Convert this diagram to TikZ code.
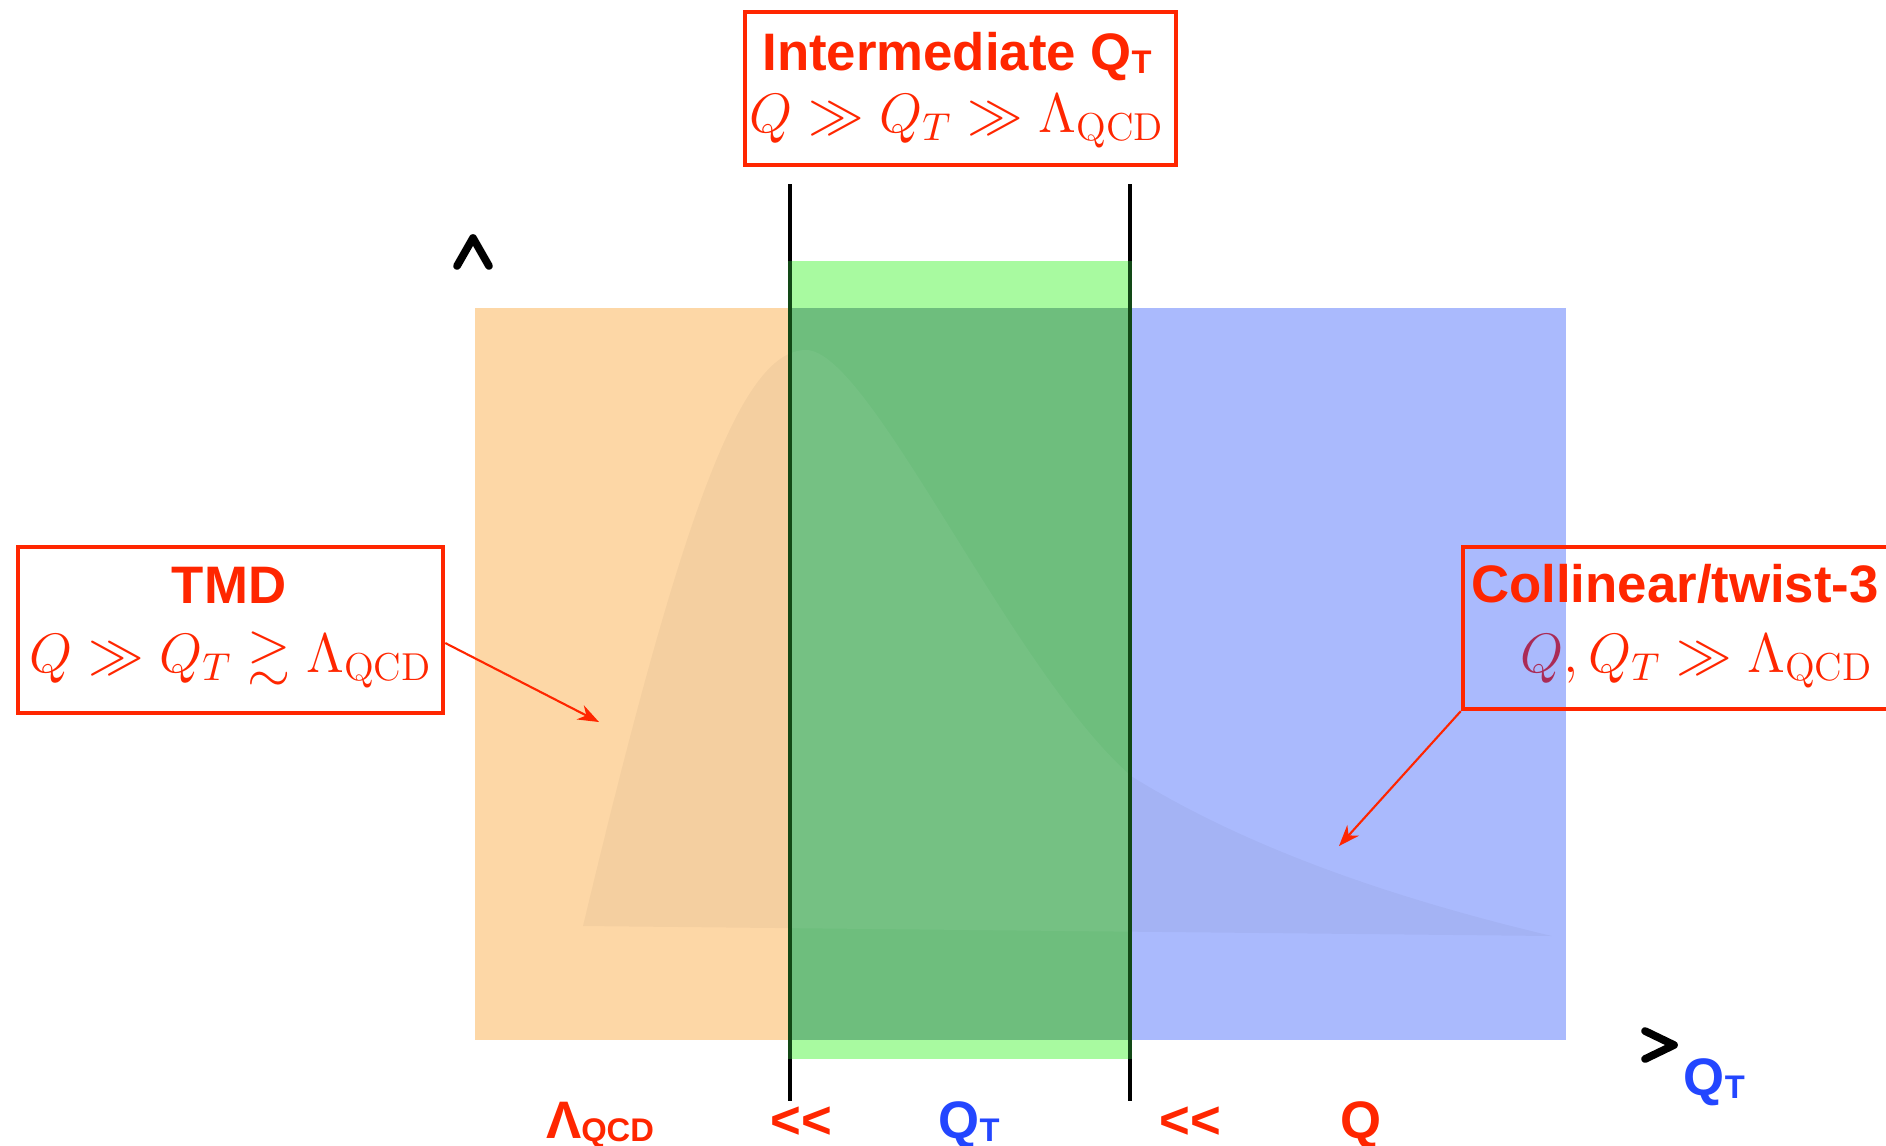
\RequirePackage{fix-cm}
\documentclass[tikz,border=0pt]{standalone}
\usepackage{amsmath,amssymb}
\usepackage{fontspec}
\setsansfont{Liberation Sans}
\usetikzlibrary{arrows.meta,positioning}
\definecolor{KeyRed}{RGB}{255,38,0}
\definecolor{KeyBlue}{RGB}{35,70,255}
\definecolor{TmdOrange}{RGB}{253,215,166}
\definecolor{MidGreen}{RGB}{168,250,160}
\definecolor{MidGreenDark}{RGB}{110,190,125}
\definecolor{ColBlue}{RGB}{9,55,250}
\definecolor{LineGreen}{RGB}{18,72,22}
\newcommand{\lowsub}[1]{\raisebox{-0.9pt}{\fontsize{9.3}{10}\selectfont #1}}

\begin{document}
\begin{tikzpicture}[x=0.01cm,y=-0.01cm,
    regionbox/.style={draw=KeyRed,line width=1.2pt,inner sep=0pt},
    boxtitle/.style={text=KeyRed,font=\sffamily\bfseries\fontsize{15}{18}\selectfont,
                     anchor=base,inner sep=0pt},
    formula/.style={text=KeyRed,font=\fontsize{15.8}{19}\selectfont,anchor=base,inner sep=0pt},
    scalelabel/.style={font=\sffamily\bfseries\fontsize{15}{18}\selectfont,anchor=base,inner sep=0pt},
    pointer/.style={draw=KeyRed,line width=0.6pt,-{Stealth[length=6pt,width=4.5pt]}},
    chevron/.style={line width=2.2pt,line cap=round,line join=round},
    divider/.style={line width=1.2pt}
  ]
  \useasboundingbox (0,0) rectangle (1886,1145);
  % regions
  \fill[TmdOrange] (475,308) rectangle (790,1040);
  \node[formula] (colmath) at (1697,672) {$Q, Q_T \gg \Lambda_{\mathrm{QCD}}$};
  \fill[ColBlue,fill opacity=0.344] (1130,308) rectangle (1566,1040);
  \path[save path=\peakpath] (583,926) .. controls (680,520) and (740,350) .. (806,350)
    .. controls (870,350) and (1010,670) .. (1131,776)
    .. controls (1250,850) and (1400,900) .. (1552,936) -- cycle;
  \fill[black,fill opacity=0.035,use path=\peakpath];
  \fill[MidGreen] (790,261) rectangle (1130,1059);
  \fill[MidGreenDark] (790,308) rectangle (1130,1040);
  \begin{scope}
    \clip (790,308) rectangle (1130,1040);
    \fill[white,fill opacity=0.05,use path=\peakpath];
  \end{scope}
  \draw[divider] (790,184) -- (790,1101);
  \draw[divider] (1130,184) -- (1130,1101);
  \draw[divider,LineGreen] (790,261) -- (790,1059);
  \draw[divider,LineGreen] (1130,261) -- (1130,1059);

  % labelled boxes
  \node[regionbox,minimum width=4.31cm,minimum height=1.53cm] (midbox) at (960.5,88.5) {};
  \node[boxtitle] (midtitle) at (957,70) {Intermediate Q\lowsub{T}};
  \node[formula] (midmath) at (957,132) {$Q \gg Q_T \gg \Lambda_{\mathrm{QCD}}$};

  \node[regionbox,minimum width=4.25cm,minimum height=1.66cm] (tmdbox) at (230.5,630) {};
  \node[boxtitle] (tmdtitle) at (229,603) {TMD};
  \node[formula] (tmdmath) at (231,672) {$Q \gg Q_T \gtrsim \Lambda_{\mathrm{QCD}}$};

  \node[regionbox,minimum width=4.6cm,minimum height=1.62cm] (colbox) at (1693,628) {};
  \node[boxtitle] (coltitle) at (1675,602) {Collinear/twist-3};

  \coordinate (tmdtip) at (599,722);
  \coordinate (coltip) at (1339,846);
  \draw[pointer] ([yshift=-0.13cm]tmdbox.east) -- (tmdtip);
  \draw[pointer] (colbox.south west) -- (coltip);

  % axis tips
  \draw[chevron] (457,266) -- (473,238) -- (489,266);
  \draw[chevron] (1645,1031) -- (1674,1045) -- (1645,1059);
  \node[scalelabel,text=KeyBlue,anchor=base west] (qtaxis) at (1683,1095) {Q\lowsub{T}};

  % ordering of scales
  \node[scalelabel,text=KeyRed] (lamlabel) at (600,1138) {Λ\lowsub{QCD}};
  \node[scalelabel,text=KeyRed] (lessleft) at (801,1138) {<{}<};
  \node[scalelabel,text=KeyBlue] (qtlabel) at (969,1138) {Q\lowsub{T}};
  \node[scalelabel,text=KeyRed] (lessright) at (1190,1138) {<{}<};
  \node[scalelabel,text=KeyRed] (qlabel) at (1361,1138) {Q};
\end{tikzpicture}
\end{document}
